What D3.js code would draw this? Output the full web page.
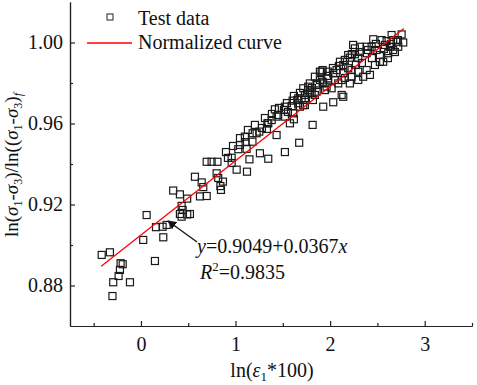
<!DOCTYPE html>
<html><head><meta charset="utf-8">
<script src="https://cdn.jsdelivr.net/npm/d3@7"></script>
<style>body{margin:0;background:#fff}svg{display:block}text{font-family:'Liberation Serif','Times New Roman',serif !important;fill:#111}</style>
</head><body>
<script>
const xVals = [-0.415,-0.328,-0.215,-0.193,-0.222,-0.236,-0.293,-0.116,-0.301,0.024,0.060,0.148,0.159,0.229,0.272,0.236,
0.341,0.412,0.489,0.430,0.412,0.489,0.441,0.430,0.571,0.642,0.659,0.624,0.695,0.518,0.747,0.809,0.800,0.817,0.867,0.840,0.846,
0.899,0.959,0.959,1.012,1.121,1.029,1.099,1.106,1.117,1.179,1.147,1.181,1.258,1.346,1.251,1.332,1.337,1.434,1.451,1.416,1.512,
1.522,1.522,1.575,1.593,1.617,1.610,1.663,1.681,1.663,1.734,1.734,1.786,1.786,1.839,1.864,1.921,1.963,1.910,1.927,1.815,1.673,
1.522,1.382,1.604,1.768,2.033,2.139,2.456,2.544,2.650,2.667,2.756,2.773,2.720,2.315,2.386,2.439,2.262,2.262,2.297,2.386,2.492,
2.526,2.632,2.667,2.614,2.561,2.474,2.386,2.297,2.421,2.350,2.209,2.139,2.104,2.069,2.191,2.227,2.139,1.921,1.980,2.033,1.980,
2.051,2.122,2.209,2.297,2.227,1.839,1.857,1.927,1.716,1.768,1.804,1.857,1.945,2.016,2.122,1.699,1.716,2.086,2.597,2.703,2.579,
2.243,2.191,1.892,1.434,1.346,1.223,0.695,1.653,1.554,1.279,1.047,0.920,1.681,1.818,
1.734,1.808,1.892,1.966,2.030,2.093,2.156,2.230,2.315,2.400,2.484,2.569,2.643,2.717,2.156,2.273,2.336,2.442,2.526,2.611,2.685,
1.311,1.385,1.459,1.543,1.617,1.205,1.131,1.047,0.973];
const yVals = [0.8951,0.8964,0.8910,0.8905,0.8877,0.8847,0.8816,0.8816,0.8748,0.9025,0.9148,0.8921,0.9088,0.9090,0.9099,0.9038,
0.9269,0.9250,0.9229,0.9193,0.9153,0.9151,0.9173,0.9140,0.9337,0.9309,0.9286,0.9240,0.9242,0.9153,0.9411,0.9411,0.9354,0.9331,0.9313,0.9291,0.9272,
0.9459,0.9431,0.9405,0.9372,0.9362,0.9473,0.9535,0.9508,0.9475,0.9510,0.9423,0.9552,0.9453,0.9426,0.9560,0.9573,0.9601,0.9543,0.9642,0.9670,0.9667,
0.9634,0.9683,0.9601,0.9686,0.9621,0.9650,0.9724,0.9683,0.9700,0.9691,0.9716,0.9757,0.9798,0.9741,0.9798,0.9806,0.9782,0.9856,0.9683,0.9593,0.9505,
0.9459,0.9617,0.9713,0.9782,0.9705,0.9732,1.0016,1.0012,1.0037,1.0012,1.0040,1.0000,0.9979,0.9979,0.9979,0.9979,0.9971,0.9942,0.9925,0.9947,0.9963,
0.9938,0.9979,0.9963,0.9947,0.9905,0.9889,0.9864,0.9856,0.9840,0.9831,0.9925,0.9889,0.9905,0.9864,0.9873,0.9864,0.9848,0.9864,0.9856,0.9848,0.9823,
0.9815,0.9815,0.9798,0.9815,0.9831,0.9831,0.9790,0.9798,0.9774,0.9765,0.9749,0.9757,0.9765,0.9774,0.9741,0.9724,0.9691,0.9798,1.0007,1.0004,0.9988,
0.9988,0.9938,0.9856,0.9634,0.9601,0.9552,0.9411,0.9716,0.9657,0.9578,0.9494,0.9430,0.9751,0.9716,
0.9741,0.9775,0.9815,0.9835,0.9874,0.9884,0.9914,0.9943,0.9953,0.9963,0.9993,0.9968,0.9993,1.0012,0.9825,0.9889,0.9899,0.9923,0.9904,0.9923,0.9953,
0.9627,0.9647,0.9677,0.9701,0.9736,0.9593,0.9568,0.9528,0.9489];
const fitIntercept = 0.9049, fitSlope = 0.0367;
const fitRange = [-0.42, 2.78];
const xTicks = [0,1,2,3], xMinor = [-0.5,0.5,1.5,2.5,3.5];
const yTicks = [0.88,0.92,0.96,1.00], yMinor = [0.90,0.94,0.98];
const legendLabels = ["Test data","Normalized curve"];

const FF="'Liberation Serif','Times New Roman',serif";
const W=477,H=385;
const svg=d3.select("body").append("svg").attr("width",W).attr("height",H).attr("font-family",FF);
const x=d3.scaleLinear().domain([-0.75,3.5]).range([70,472]);
const y=d3.scaleLinear().domain([0.86,1.02]).range([326,2]);
const axCol="#222";

// axes
const gx=svg.append("g").attr("transform","translate(0,326)");
gx.call(d3.axisBottom(x).tickValues(xTicks).tickSizeInner(-5).tickSizeOuter(0).tickFormat(d3.format("d")));
gx.append("g").call(d3.axisBottom(x).tickValues(xMinor).tickSizeInner(-3).tickSizeOuter(0).tickFormat(""));
gx.attr("font-family",FF).attr("font-size",20);
gx.selectAll("text").attr("dy",0).attr("y",25).attr("fill","#111");
const gy=svg.append("g").attr("transform","translate(70,0)");
gy.call(d3.axisLeft(y).tickValues(yTicks).tickSizeInner(-5).tickSizeOuter(0).tickFormat(d3.format(".2f")));
gy.append("g").call(d3.axisLeft(y).tickValues(yMinor).tickSizeInner(-3).tickSizeOuter(0).tickFormat(""));
gy.attr("font-family",FF).attr("font-size",20);
gy.selectAll("text").attr("x",-7).attr("fill","#111");
svg.selectAll("g").filter(function(){return this.getAttribute("font-family")==="sans-serif";}).attr("font-family",FF);
svg.selectAll(".domain").attr("stroke",axCol).attr("stroke-width",1.2);
svg.selectAll(".tick line").attr("stroke",axCol).attr("stroke-width",1.2);

// points
const s=7;
svg.append("g").selectAll("rect").data(xVals.map((v,i)=>[v,yVals[i]])).join("rect")
 .attr("x",d=>x(d[0])-s/2).attr("y",d=>y(d[1])-s/2).attr("width",s).attr("height",s)
 .attr("fill","none").attr("stroke","#1a1a1a").attr("stroke-width",1.2);

// fit line
svg.append("line").attr("x1",x(fitRange[0])).attr("y1",y(fitIntercept+fitSlope*fitRange[0]))
 .attr("x2",x(fitRange[1])).attr("y2",y(fitIntercept+fitSlope*fitRange[1]))
 .attr("stroke","#f00").attr("stroke-width",1.3);

// legend
svg.append("rect").attr("x",107).attr("y",14).attr("width",6).attr("height",6).attr("fill","none").attr("stroke","#222").attr("stroke-width",1);
svg.append("text").attr("x",138).attr("y",25).attr("font-size",20).text(legendLabels[0]);
svg.append("line").attr("x1",87).attr("x2",132).attr("y1",43).attr("y2",43).attr("stroke","#f00").attr("stroke-width",1.3);
svg.append("text").attr("x",138).attr("y",49).attr("font-size",20).text(legendLabels[1]);

// annotation
svg.append("defs").append("marker").attr("id","ah").attr("viewBox","0 0 10 10").attr("refX",9).attr("refY",5)
 .attr("markerWidth",9).attr("markerHeight",9).attr("orient","auto").attr("markerUnits","userSpaceOnUse")
 .append("path").attr("d","M0,0 L10,5 L0,10 z").attr("fill","#111");
svg.append("line").attr("x1",197).attr("y1",242).attr("x2",168).attr("y2",221).attr("stroke","#111").attr("stroke-width",1.3).attr("marker-end","url(#ah)");
const t1=svg.append("text").attr("x",197).attr("y",253).attr("font-size",20);
t1.append("tspan").attr("font-style","italic").text("y");
t1.append("tspan").text("=0.9049+0.0367");
t1.append("tspan").attr("font-style","italic").text("x");
const t2=svg.append("text").attr("x",200).attr("y",279).attr("font-size",20);
t2.append("tspan").attr("font-style","italic").text("R");
t2.append("tspan").attr("font-size",13).attr("dy",-8).text("2");
t2.append("tspan").attr("dy",8).text("=0.9835");

// axis titles
const xt=svg.append("text").attr("x",272).attr("y",377).attr("text-anchor","middle").attr("font-size",20);
xt.append("tspan").text("ln(");
xt.append("tspan").attr("font-style","italic").text("ε");
xt.append("tspan").attr("font-size",13).attr("dy",4).text("1");
xt.append("tspan").attr("dy",-4).text("*100)");

const yt=svg.append("text").attr("transform","translate(18,165) rotate(-90)").attr("text-anchor","middle").attr("font-size",19);
function sig(sub){
  yt.append("tspan").attr("font-style","italic").text("σ");
  yt.append("tspan").attr("font-size",12).attr("dy",4).text(sub);
}
yt.append("tspan").text("ln(");
sig("1"); yt.append("tspan").attr("dy",-4).text("-"); sig("3"); yt.append("tspan").attr("dy",-4).text(")/ln((");
sig("1"); yt.append("tspan").attr("dy",-4).text("-"); sig("3"); yt.append("tspan").attr("dy",-4).text(")");
yt.append("tspan").attr("font-size",12).attr("font-style","italic").attr("dy",4).text("f");
</script>
</body></html>
